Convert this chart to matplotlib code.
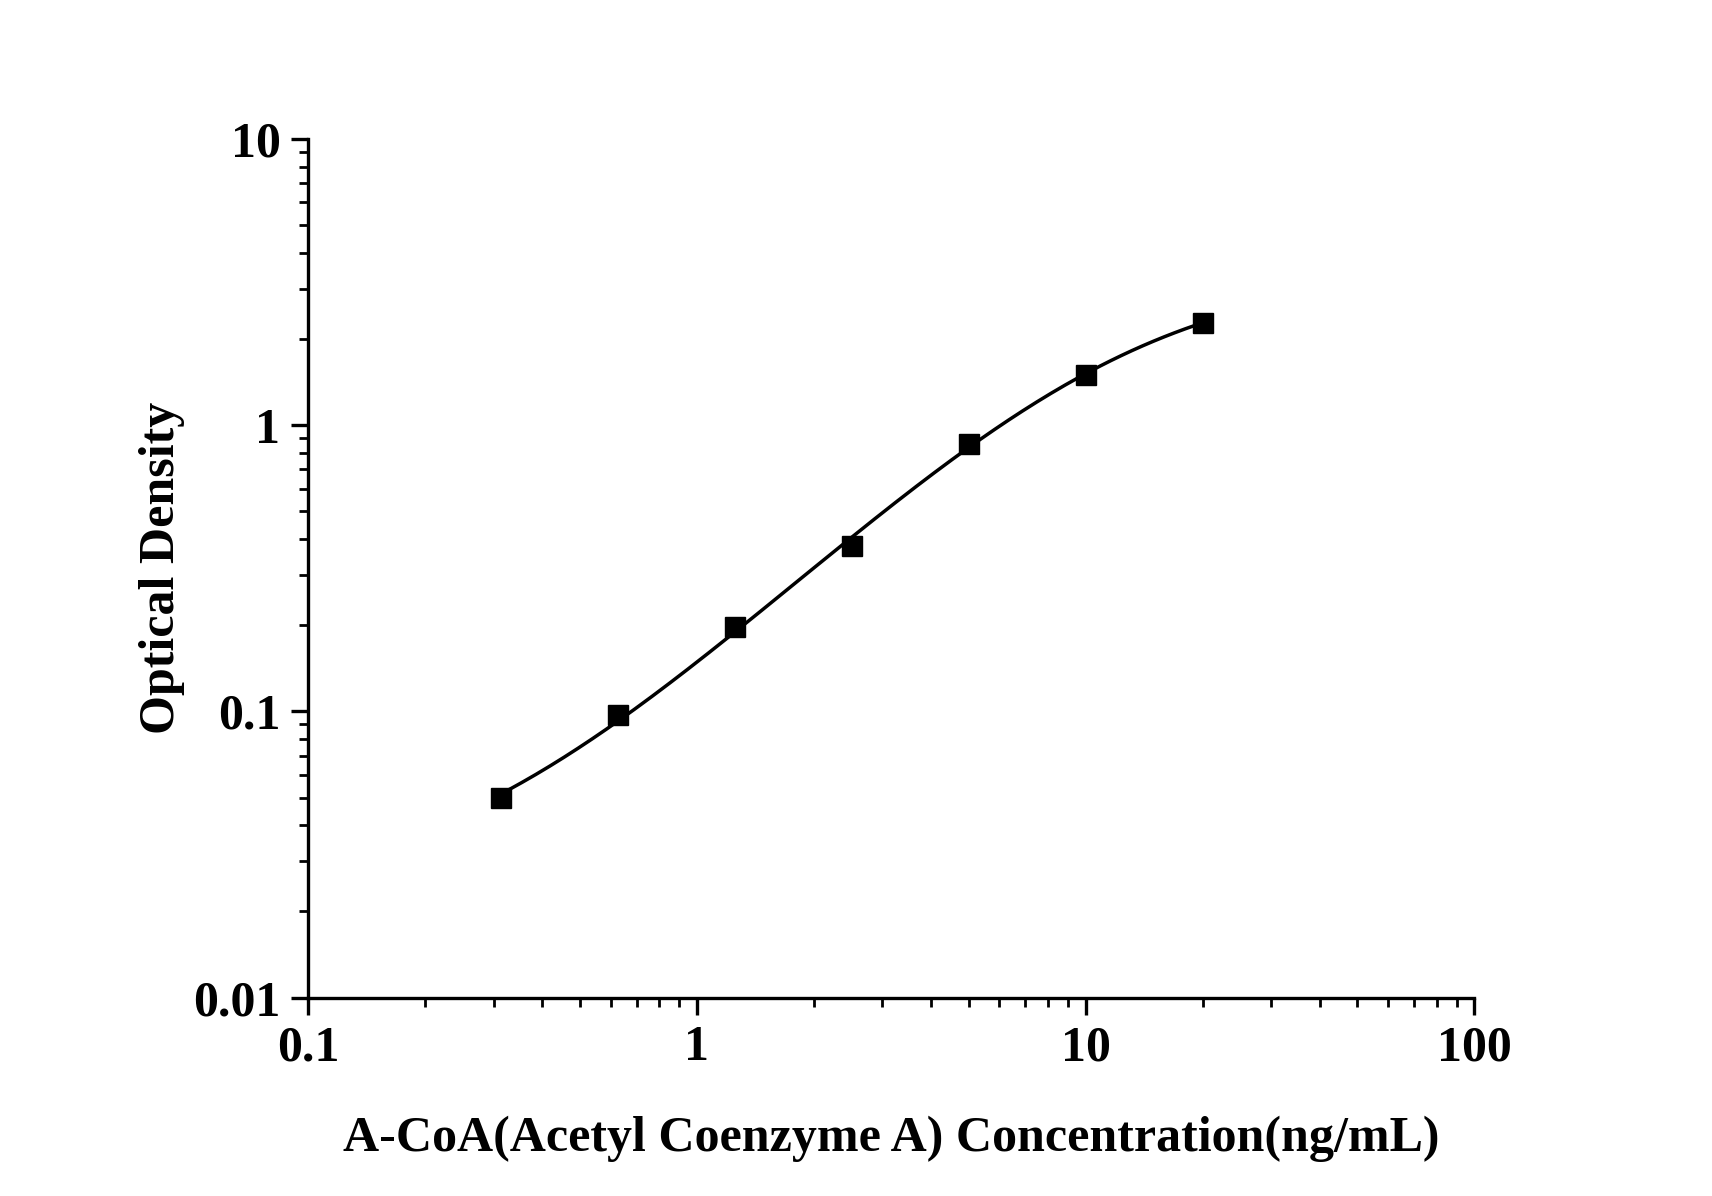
import numpy as np
import matplotlib
matplotlib.use('Agg')
import matplotlib.pyplot as plt
from matplotlib.ticker import LogLocator, FixedLocator, FixedFormatter, NullFormatter

# standard concentrations (ng/mL) and OD readings
conc = [0.3125, 0.625, 1.25, 2.5, 5, 10, 20]
od = [0.050, 0.097, 0.197, 0.377, 0.861, 1.50, 2.28]

x_ticks = [0.1, 1, 10, 100]
x_tick_labels = ['0.1', '1', '10', '100']
y_ticks = [0.01, 0.1, 1, 10]
y_tick_labels = ['0.01', '0.1', '1', '10']

plt.rcParams['font.family'] = ['Liberation Serif', 'DejaVu Serif']
plt.rcParams['font.weight'] = 'bold'


def four_pl(x, p):
    a, b, c, d = p
    return d + (a - d) / (1 + (x / c) ** b)


# 4PL fit with a small Levenberg-Marquardt loop
x = np.array(conc)
y = np.array(od)
p = np.array([0.0, 1.2, 8.0, 4.0])
lam = 1e-3
for _ in range(500):
    r = y - four_pl(x, p)
    J = np.zeros((len(x), 4))
    for i in range(4):
        dp = np.zeros(4)
        dp[i] = 1e-6 * max(abs(p[i]), 1.0)
        J[:, i] = (four_pl(x, p + dp) - four_pl(x, p)) / dp[i]
    A = J.T @ J
    g = J.T @ r
    step = np.linalg.solve(A + lam * np.diag(np.diag(A)), g)
    p_new = p + step
    if p_new[2] > 0 and np.sum((y - four_pl(x, p_new)) ** 2) < np.sum(r ** 2):
        p = p_new
        lam *= 0.3
    else:
        lam *= 10

xs = np.logspace(np.log10(conc[0]), np.log10(conc[-1]), 200)
ys = four_pl(xs, p)

fig = plt.figure(figsize=(17.12, 11.96), dpi=100)
ax = fig.add_axes([0.180, 0.1659, 0.6812, 0.718])

ax.plot(xs, ys, color='black', lw=2.5)
ax.plot(conc, od, 's', color='black', markersize=14, clip_on=False)

ax.set_xscale('log')
ax.set_yscale('log')
ax.set_xlim(0.1, 100)
ax.set_ylim(0.01, 10)

ax.xaxis.set_major_locator(FixedLocator(x_ticks))
ax.xaxis.set_major_formatter(FixedFormatter(x_tick_labels))
ax.yaxis.set_major_locator(FixedLocator(y_ticks))
ax.yaxis.set_major_formatter(FixedFormatter(y_tick_labels))
ax.xaxis.set_minor_locator(LogLocator(base=10, subs=np.arange(2, 10)))
ax.yaxis.set_minor_locator(LogLocator(base=10, subs=np.arange(2, 10)))
ax.xaxis.set_minor_formatter(NullFormatter())
ax.yaxis.set_minor_formatter(NullFormatter())

for s in ['top', 'right']:
    ax.spines[s].set_visible(False)
for s in ['left', 'bottom']:
    ax.spines[s].set_linewidth(2.4)

ax.tick_params(axis='both', which='major', direction='out', length=12, width=2.4,
               labelsize=36, pad=8)
ax.tick_params(axis='both', which='minor', direction='out', length=6.5, width=2.0)

ax.set_xlabel('A-CoA(Acetyl Coenzyme A) Concentration(ng/mL)', fontsize=36,
              fontweight='bold', labelpad=32)
ax.set_ylabel('Optical Density', fontsize=36, fontweight='bold', labelpad=6)

plt.savefig('out.png', dpi=100)
